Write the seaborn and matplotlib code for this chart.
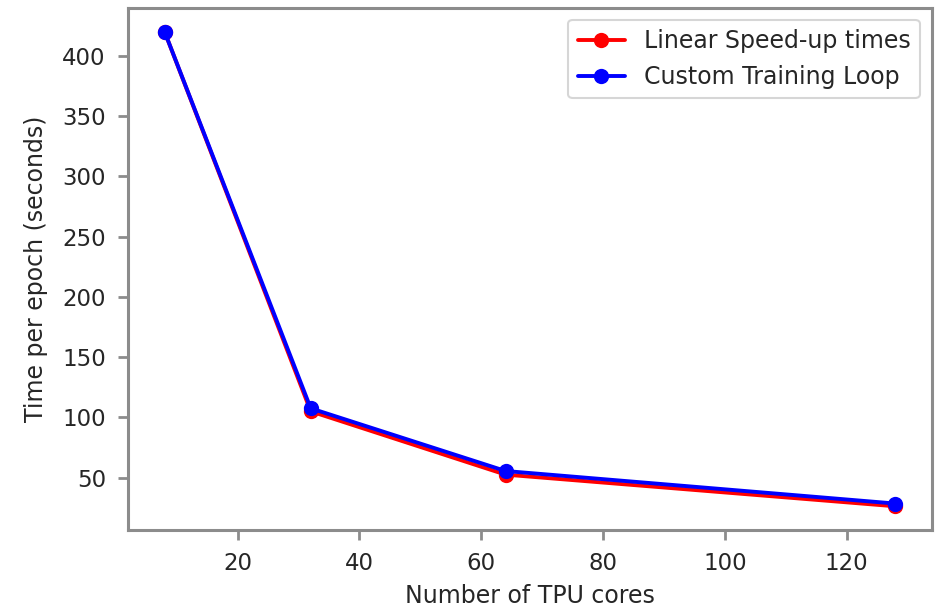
import matplotlib
matplotlib.use("Agg")
import matplotlib.pyplot as plt
import seaborn as sns
import pandas as pd

cores = [8, 32, 64, 128]
linear_speedup = [420, 105, 52.5, 26.25]
custom_loop = [420, 107.5, 55.5, 28.5]

sns.set_style("ticks")
plt.rcParams['font.family'] = ['DejaVu Sans']

fig = plt.figure(figsize=(9.38, 6.09), dpi=100)
ax = fig.add_axes([0.1365, 0.1297, 0.857, 0.8573])

df = pd.DataFrame({
    "cores": cores * 2,
    "time": linear_speedup + custom_loop,
    "series": ["Linear Speed-up times"] * 4 + ["Custom Training Loop"] * 4,
})

sns.lineplot(data=df, x="cores", y="time", hue="series",
             palette={"Linear Speed-up times": "red", "Custom Training Loop": "blue"},
             marker="o", markersize=11, markeredgewidth=0, linewidth=2.8, ax=ax,
             estimator=None, sort=False)

spine_col = "#8c8c8c"
text_col = "#262626"
for s in ax.spines.values():
    s.set_color(spine_col)
    s.set_linewidth(2.2)
ax.tick_params(axis="both", colors=spine_col, labelcolor=text_col,
               labelsize=16.5, length=7, width=2)
ax.tick_params(axis="x", pad=9)
ax.tick_params(axis="y", pad=9)

ax.set_xticks([20, 40, 60, 80, 100, 120])
ax.set_yticks([50, 100, 150, 200, 250, 300, 350, 400])
ax.set_xlim(2, 134)
ax.set_ylim(6.56, 439.7)

ax.set_xlabel("Number of TPU cores", fontsize=17, color=text_col, labelpad=6)
ax.set_ylabel("Time per epoch (seconds)", fontsize=17, color=text_col, labelpad=10)

leg = ax.legend(loc="upper right", fontsize=17, frameon=True, markerscale=1.0,
                borderaxespad=0.5)
leg.get_frame().set_edgecolor("#cccccc")
leg.get_frame().set_linewidth(1.5)
for t in leg.get_texts():
    t.set_color(text_col)

fig.savefig("out.png", dpi=100)
